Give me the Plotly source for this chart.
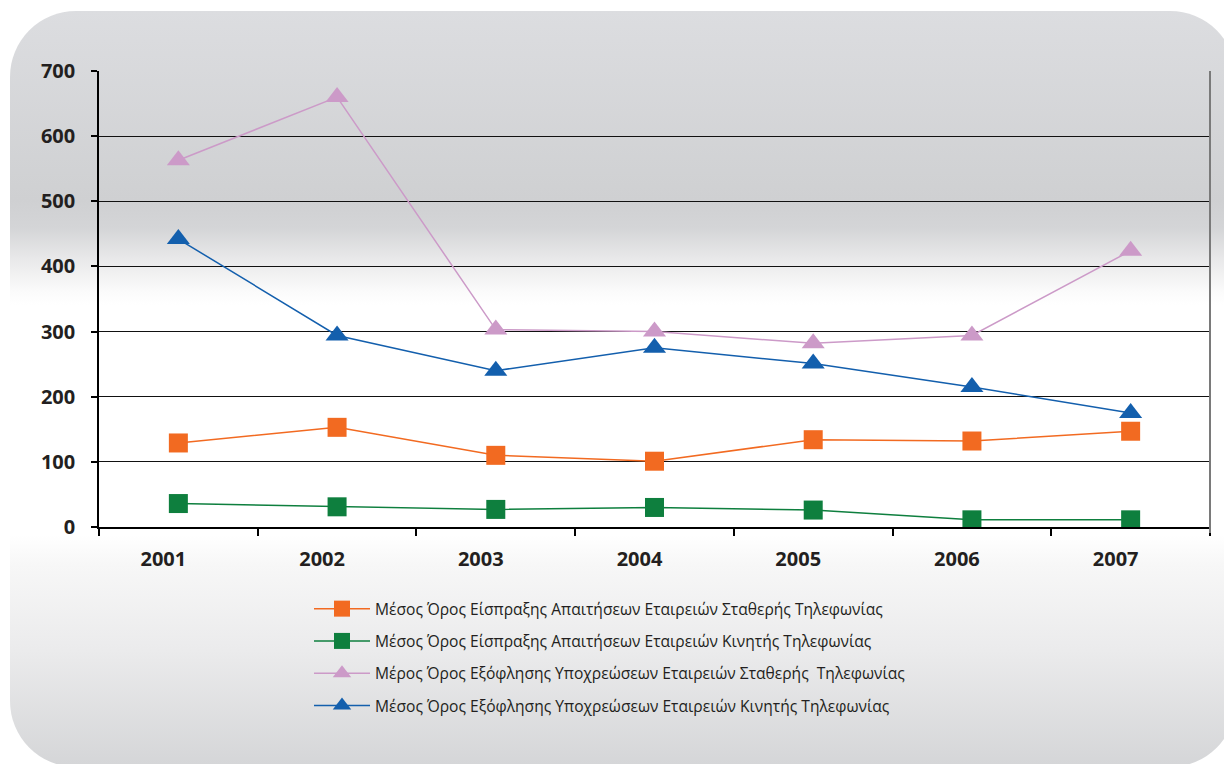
import base64
import plotly.graph_objects as go

years = ["2001", "2002", "2003", "2004", "2005", "2006", "2007"]

collect_fixed = [129, 153, 110, 101, 134, 132, 147]
collect_mobile = [36, 31, 27, 30, 26, 11, 11]
pay_fixed = [563, 660, 303, 300, 282, 294, 424]
pay_mobile = [442, 294, 240, 275, 251, 215, 175]

names = [
    "Μέσος Όρος Είσπραξης Απαιτήσεων Εταιρειών Σταθερής Τηλεφωνίας",
    "Μέσος Όρος Είσπραξης Απαιτήσεων Εταιρειών Κινητής Τηλεφωνίας",
    "Μέρος Όρος Εξόφλησης Υποχρεώσεων Εταιρειών Σταθερής\u00a0 Τηλεφωνίας",
    "Μέσος Όρος Εξόφλησης Υποχρεώσεων Εταιρειών Κινητής Τηλεφωνίας",
]
series = [collect_fixed, collect_mobile, pay_fixed, pay_mobile]
colors = ["#f26a21", "#0e7f3e", "#cc9ac8", "#135fad"]
symbols = ["square", "square", "triangle-up", "triangle-up"]
sizes = [19, 19, 20, 20]

# page has an 8px body margin; work in figure coordinates = page - 8
OFF = 8
W, H = 1232 - OFF, 764 - OFF
L, R, T, B = 99 - OFF, 1210 - OFF, 71 - OFF, 527 - OFF
pw, ph = R - L, B - T

def gy(py):
    return py - OFF

svg = f"""<svg xmlns='http://www.w3.org/2000/svg' width='{W}' height='{H}' viewBox='0 0 {W} {H}'>
<defs><linearGradient id='g' gradientUnits='userSpaceOnUse' x1='0' y1='0' x2='0' y2='{H}'>
<stop offset='{gy(11)/H:.4f}' stop-color='#dcdde0'/>
<stop offset='{gy(200)/H:.4f}' stop-color='#cfd0d2'/>
<stop offset='{gy(228)/H:.4f}' stop-color='#d4d5d7'/>
<stop offset='{gy(258)/H:.4f}' stop-color='#e8e8e9'/>
<stop offset='{gy(292)/H:.4f}' stop-color='#fbfbfb'/>
<stop offset='{gy(305)/H:.4f}' stop-color='#ffffff'/>
<stop offset='{gy(535)/H:.4f}' stop-color='#ffffff'/>
<stop offset='{gy(565)/H:.4f}' stop-color='#f7f7f7'/>
<stop offset='{gy(650)/H:.4f}' stop-color='#ebebec'/>
<stop offset='1' stop-color='#d5d6d8'/>
</linearGradient></defs>
<rect x='{10-OFF}' y='{11-OFF}' width='1226' height='756' rx='66' ry='66' fill='url(#g)'/>
</svg>"""
src = "data:image/svg+xml;base64," + base64.b64encode(svg.encode("utf-8")).decode("ascii")

fig = go.Figure()
for i, (nm, vals) in enumerate(zip(names, series)):
    fig.add_trace(go.Scatter(
        x=years, y=vals, name=nm, mode="lines+markers",
        legendgroup=f"g{i}",
        line=dict(color=colors[i], width=1.5),
        marker=dict(symbol=symbols[i], size=sizes[i], color=colors[i], line=dict(width=0)),
    ))

fig.add_shape(type="line", xref="paper", yref="paper", x0=1, x1=1, y0=-6 / ph, y1=1,
              line=dict(color="#7a7a7a", width=2), layer="above")

fig.update_layout(
    width=W, height=H,
    margin=dict(l=L, r=W - R, t=T, b=H - B, pad=0),
    paper_bgcolor="white",
    plot_bgcolor="rgba(0,0,0,0)",
    images=[dict(source=src, xref="paper", yref="paper",
                 x=-L / pw, y=B / ph, sizex=W / pw, sizey=H / ph,
                 xanchor="left", yanchor="top", sizing="stretch", layer="below")],
    showlegend=True,
    legend=dict(
        x=(309 - 99) / pw, y=(527 - 592) / ph, xanchor="left", yanchor="top",
        bgcolor="rgba(0,0,0,0)", borderwidth=0,
        font=dict(family="Open Sans", size=15.6, color="#231f20"),
        tracegroupgap=9, itemwidth=56,
    ),
    font=dict(family="Open Sans", color="#231f20"),
)

fig.update_xaxes(
    type="category", range=[-0.5, 6.5], tickson="boundaries",
    ticks="outside", ticklen=7, tickcolor="black", tickwidth=1.5,
    showline=True, linecolor="black", linewidth=1.5, showgrid=False,
    tickfont=dict(family="Open Sans", size=20, color="#231f20", weight="bold"),
    ticklabelshift=-15, ticklabelstandoff=13,
)
fig.update_yaxes(
    range=[0, 700], dtick=100, tick0=0,
    showgrid=True, gridcolor="#111111", gridwidth=1,
    zeroline=False, showline=True, linecolor="black", linewidth=1.5,
    ticks="outside", ticklen=6, tickcolor="black", tickwidth=1.5,
    tickfont=dict(family="Open Sans", size=20, color="#231f20", weight="bold"),
    ticklabelstandoff=12,
)

fig.write_html("out.html")
